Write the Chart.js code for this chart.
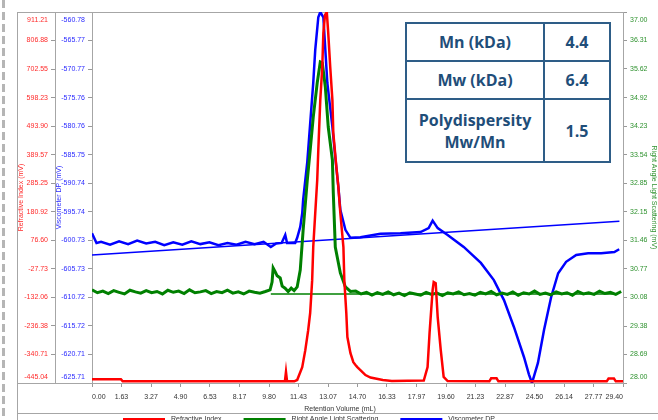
<!DOCTYPE html>
<html>
<head>
<meta charset="utf-8">
<script src="https://cdn.jsdelivr.net/npm/chart.js@4.4.1/dist/chart.umd.min.js"></script>
<style>
  html, body { margin: 0; padding: 0; background: #fff; overflow: hidden; }
  #wrap { position: relative; width: 658px; height: 420px; }
  #gpc { position: absolute; left: 0; top: 0; }
  table.stats {
    position: absolute; left: 405px; top: 22px; width: 204px;
    border-collapse: collapse; table-layout: fixed; background: #fff;
    font-family: 'Open Sans', sans-serif; font-weight: 700; color: #1f4e79;
  }
  table.stats td { border: 2px solid #2e5d87; text-align: center; font-size: 16px; padding: 0; }
</style>
</head>
<body>
<div id="wrap">
  <canvas id="gpc" width="658" height="420"></canvas>
  <table class="stats">
    <colgroup><col style="width:138px"><col style="width:66px"></colgroup>
    <tr style="height:38px"><td>Mn (kDa)</td><td>4.4</td></tr>
    <tr style="height:38px"><td>Mw (kDa)</td><td>6.4</td></tr>
    <tr style="height:63px"><td style="line-height:22px">Polydispersity<br>Mw/Mn</td><td>1.5</td></tr>
  </table>
</div>
<script>
// axis ticks as printed by the instrument software
const xTicks = [0, 1.63, 3.27, 4.90, 6.53, 8.17, 9.80, 11.43, 13.07, 14.70, 16.33, 17.97, 19.60, 21.23, 22.87, 24.50, 26.14, 27.77, 29.40];
const riTicks = [-445.04, -340.71, -236.38, -132.06, -27.73, 76.60, 180.92, 285.25, 389.57, 493.90, 598.23, 702.55, 806.88, 911.21];
const dpTicks = [-625.71, -620.71, -615.72, -610.72, -605.73, -600.73, -595.74, -590.74, -585.75, -580.76, -575.76, -570.77, -565.77, -560.78];
const lsTicks = [28.00, 28.69, 29.38, 30.08, 30.77, 31.46, 32.15, 32.85, 33.54, 34.23, 34.92, 35.62, 36.31, 37.00];

// Refractive index (mV) vs retention volume (mL)
const riVol = [0.00, 1.60, 1.70, 10.68, 10.74, 10.80, 11.20, 11.36, 11.64, 11.81, 11.97, 12.08, 12.19, 12.25, 12.36, 12.47, 12.53, 12.64, 12.75, 12.81, 12.90, 13.00, 13.08, 13.19, 13.31, 13.36, 13.53, 13.64, 13.75, 13.92, 13.97, 14.08, 14.14, 14.31, 14.47, 14.60, 14.69, 14.86, 15.14, 15.42, 16.10, 16.60, 18.37, 18.58, 18.69, 18.86, 18.92, 19.03, 19.14, 19.31, 19.47, 19.69, 22.00, 22.10, 22.40, 22.50, 28.50, 28.60, 28.90, 29.00, 29.40];
const riMv = [-431, -431, -439, -439, -404, -439, -439, -434, -387, -325, -252, -189, -69, 52, 176, 297, 407, 590, 710, 835, 900, 911.21, 834, 710, 590, 469, 345, 272, 176, 52, -69, -189, -277, -336, -369, -380, -387, -398, -416, -425, -434, -438, -436, -387, -262, -105, -76, -80, -204, -325, -423, -438, -439, -428, -428, -439, -439, -429, -429, -439, -439];

// Right angle light scattering (mV)
const lsVol = [0.0, 0.3, 0.6, 0.9, 1.2, 1.5, 1.8, 2.1, 2.4, 2.7, 3.0, 3.3, 3.6, 3.9, 4.2, 4.5, 4.8, 5.1, 5.4, 5.7, 6.0, 6.3, 6.6, 6.9, 7.2, 7.5, 7.8, 8.1, 8.4, 8.7, 9.0, 9.3, 9.6,
  9.86, 9.97, 10.03, 10.14, 10.25, 10.42, 10.53, 10.69, 10.86, 11.03, 11.19, 11.36, 11.53, 11.69, 11.92, 12.08, 12.25, 12.47, 12.64, 12.75, 12.92, 13.08, 13.31, 13.36, 13.47, 13.75, 14.03, 14.31,
  14.6, 14.9, 15.2, 15.5, 15.8, 16.1, 16.4, 16.7, 17.0, 17.3, 17.6, 17.9, 18.2, 18.5, 18.8, 19.1, 19.4, 19.7, 20.0, 20.3, 20.6, 20.9, 21.2, 21.5, 21.8, 22.1, 22.4, 22.7, 23.0, 23.3, 23.6, 23.9, 24.2, 24.5, 24.8, 25.1, 25.4, 25.7, 26.0, 26.3, 26.6, 26.9, 27.2, 27.5, 27.8, 28.1, 28.4, 28.7, 29.0, 29.3];
const lsMv = [30.26, 30.19, 30.23, 30.17, 30.24, 30.20, 30.16, 30.25, 30.21, 30.18, 30.24, 30.19, 30.22, 30.16, 30.25, 30.20, 30.23, 30.17, 30.26, 30.19, 30.21, 30.24, 30.17, 30.22, 30.19, 30.25, 30.18, 30.21, 30.16, 30.23, 30.20, 30.18, 30.22,
  30.26, 30.45, 30.79, 30.70, 30.60, 30.55, 30.35, 30.30, 30.22, 30.30, 30.24, 30.33, 30.74, 31.71, 32.92, 33.65, 34.45, 35.28, 35.79, 35.77, 35.18, 34.21, 33.41, 32.61, 31.30, 30.67, 30.33, 30.22,
  30.23, 30.16, 30.20, 30.13, 30.19, 30.15, 30.21, 30.14, 30.18, 30.12, 30.19, 30.16, 30.13, 30.20, 30.15, 30.18, 30.12, 30.19, 30.16, 30.21, 30.14, 30.17, 30.13, 30.20, 30.16, 30.22, 30.14, 30.18, 30.15, 30.21, 30.13, 30.19, 30.16, 30.23, 30.15, 30.18, 30.14, 30.21, 30.16, 30.19, 30.13, 30.22, 30.16, 30.19, 30.15, 30.23, 30.17, 30.20, 30.15, 30.22];
const lsBaseVol = [9.90, 29.00];
const lsBaseMv = [30.16, 30.16];

// Viscometer DP (mV)
const dpVol = [0.00, 0.25, 0.50, 1.00, 1.50, 2.00, 2.50, 3.00, 3.50, 4.00, 4.50, 5.00, 5.50, 6.00, 6.50, 7.00, 7.50, 8.00, 8.50, 9.00, 9.50, 9.90, 10.20, 10.50, 10.70, 10.80, 11.10, 11.25, 11.36, 11.53, 11.64, 11.69, 11.92, 12.08, 12.25, 12.36, 12.53, 12.64, 12.81, 13.03, 13.31, 13.47, 13.64, 13.75, 14.03, 14.31, 14.86, 15.97, 17.08, 18.19, 18.64, 18.86, 19.14, 19.69, 20.58, 21.53, 22.25, 22.81, 23.36, 23.92, 24.19, 24.36, 24.69, 25.03, 25.42, 25.81, 26.25, 26.81, 27.47, 28.19, 28.92, 29.19];
const dpMv = [-599.5, -601.2, -601.0, -601.5, -600.9, -601.4, -600.8, -601.3, -601.0, -601.6, -601.1, -601.5, -600.9, -601.4, -601.1, -601.6, -601.2, -601.5, -601.0, -601.4, -601.0, -601.9, -601.3, -601.2, -599.8, -601.2, -601.2, -601.2, -600.3, -598.4, -596.0, -593.7, -587.0, -580.3, -573.2, -567.4, -561.7, -560.78, -561.7, -573.2, -580.9, -586.2, -591.4, -595.4, -598.9, -600.3, -600.2, -599.6, -599.5, -599.3, -598.6, -597.3, -598.6, -599.8, -601.9, -604.7, -607.7, -611.2, -615.9, -621.2, -624.2, -625.71, -622.2, -616.4, -610.7, -606.5, -604.5, -603.3, -603.0, -603.0, -602.8, -602.3];
const dpBaseVol = [0.00, 29.20];
const dpBaseMv = [-603.3, -597.4];

const pts = (xs, ys) => xs.map((x, i) => ({ x: x, y: ys[i] }));
const FONT = 'Liberation Sans';

function yAxis(pos, min, max, ticks, color, title, width) {
  return {
    type: 'linear', position: pos, min: min, max: max,
    afterBuildTicks: s => { s.ticks = ticks.map(v => ({ value: v })); },
    afterFit: s => { s.width = width; },
    ticks: {
      color: color, font: { family: FONT, size: 7 }, padding: 3, autoSkip: false,
      // end labels are drawn by the frame plugin, pulled inside the box
      callback: (v, i, t) => (i === 0 || i === t.length - 1) ? '' : v.toFixed(2)
    },
    grid: { drawOnChartArea: false, tickLength: 4, color: '#999' },
    border: { color: '#a6a6a6' },
    title: { display: true, text: title, color: color, font: { family: FONT, size: 7 }, padding: 0 }
  };
}

const framePlugin = {
  id: 'frame',
  beforeDatasetsDraw(chart) {
    const c = chart.ctx, a = chart.chartArea;
    c.save();
    c.strokeStyle = '#a6a6a6';
    c.lineWidth = 1;
    c.beginPath();
    c.moveTo(17.5, 12); c.lineTo(17.5, 420);
    c.moveTo(17, 12.5); c.lineTo(a.right, 12.5);
    c.moveTo(17, a.bottom + 0.5); c.lineTo(a.left, a.bottom + 0.5);
    c.moveTo(17, 413.5); c.lineTo(658, 413.5);
    c.stroke();
    // dashed page edge on the far left
    c.strokeStyle = '#b5b5b5';
    c.lineWidth = 3;
    c.setLineDash([8, 4]);
    c.beginPath(); c.moveTo(3.5, 0); c.lineTo(3.5, 420); c.stroke();
    c.restore();
  },
  afterDraw(chart) {
    const c = chart.ctx;
    c.save();
    c.font = '7px "' + FONT + '"';
    c.textBaseline = 'middle';
    ['yRI', 'yDP', 'yLS'].forEach(id => {
      const s = chart.scales[id];
      const t = s.ticks;
      const left = s.options.position === 'left';
      c.fillStyle = s.options.ticks.color;
      c.textAlign = left ? 'right' : 'left';
      const x = left ? s.right - 7 : s.left + 7;
      c.fillText(t[t.length - 1].value.toFixed(2), x, s.top + 8);
      c.fillText(t[0].value.toFixed(2), x, s.bottom - 6);
    });
    // x axis title
    c.fillStyle = '#333';
    c.textAlign = 'center';
    c.fillText('Retention Volume (mL)', 340, 409);
    // legend row, cut off by the bottom of the page
    let lx = 123;
    c.textAlign = 'left';
    c.textBaseline = 'top';
    chart.data.datasets.filter(d => d.label).forEach(d => {
      c.fillStyle = d.borderColor;
      c.fillRect(lx, 418, 42, 8);
      c.fillStyle = '#333';
      c.fillText(d.label, lx + 48, 416);
      lx += 48 + c.measureText(d.label).width + 22;
    });
    c.restore();
  }
};

const line = (label, data, color, axis, width) => ({
  label: label, data: data, yAxisID: axis, borderColor: color, backgroundColor: color,
  borderWidth: width, pointRadius: 0, tension: 0, fill: false
});

new Chart(document.getElementById('gpc'), {
  type: 'line',
  data: {
    datasets: [
      line('Refractive Index', pts(riVol, riMv), '#ff0000', 'yRI', 2.5),
      line('Right Angle Light Scattering', pts(lsVol, lsMv), '#008000', 'yLS', 3),
      line('Viscometer DP', pts(dpVol, dpMv), '#0000ff', 'yDP', 2.5),
      line('', pts(lsBaseVol, lsBaseMv), '#008000', 'yLS', 1.5),
      line('', pts(dpBaseVol, dpBaseMv), '#0000ff', 'yDP', 1.5)
    ]
  },
  options: {
    responsive: false,
    animation: false,
    layout: { padding: { left: 17, top: 12, right: 0, bottom: 7 } },
    plugins: { legend: { display: false }, tooltip: { enabled: false } },
    scales: {
      x: {
        type: 'linear', min: 0, max: 29.4,
        afterBuildTicks: s => { s.ticks = xTicks.map(v => ({ value: v })); },
        afterFit: s => { s.height = 30; },
        ticks: { color: '#333', font: { family: FONT, size: 7 }, align: 'inner', padding: 6, maxRotation: 0, autoSkip: false,
          callback: v => v.toFixed(2) },
        grid: { drawOnChartArea: false, tickLength: 4, color: '#999' },
        border: { color: '#a6a6a6' }
      },
      // the axis listed first sits next to the plot, so the viscometer axis comes before refractive index
      yDP: yAxis('left', -625.71, -560.78, dpTicks, '#2a2aff', 'Viscometer DP (mV)', 37),
      yRI: yAxis('left', -445.04, 911.21, riTicks, '#ff2a2a', 'Refractive Index (mV)', 38),
      yLS: yAxis('right', 28, 37, lsTicks, '#2f922f', 'Right Angle Light Scattering (mV)', 35)
    }
  },
  plugins: [framePlugin]
});
</script>
</body>
</html>
